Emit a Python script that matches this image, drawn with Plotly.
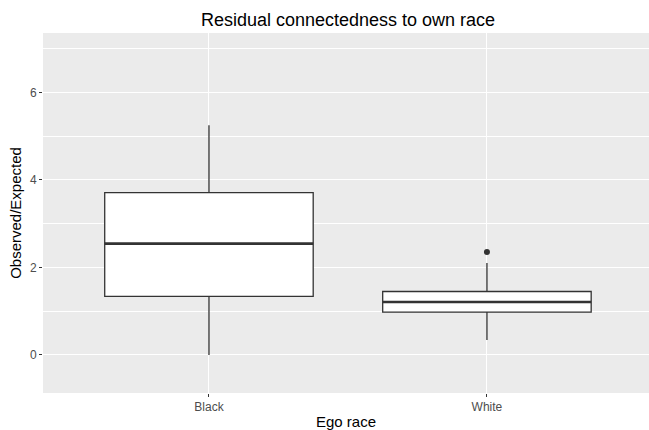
import plotly.graph_objects as go

# Summary statistics per ego race (Observed/Expected ratio)
races = ["Black", "White"]
q1 = [1.34, 0.98]
medians = [2.545, 1.21]
q3 = [3.71, 1.45]
lower_whisker = [0.0, 0.34]
upper_whisker = [5.25, 2.10]
outlier_race = ["White"]
outlier_values = [2.355]

pos = {r: i for i, r in enumerate(races)}
box_w = 0.75
ink = "#333333"

fig = go.Figure()
for i, r in enumerate(races):
    fig.add_trace(go.Box(
        x=[pos[r]], q1=[q1[i]], median=[medians[i]], q3=[q3[i]],
        lowerfence=[lower_whisker[i]], upperfence=[upper_whisker[i]],
        width=box_w, whiskerwidth=0, fillcolor="white",
        line=dict(color=ink, width=1.3), boxpoints=False,
        showlegend=False, hoverinfo="skip",
    ))
    # thicker median bar, as in ggplot2
    fig.add_trace(go.Scatter(
        x=[pos[r] - box_w / 2, pos[r] + box_w / 2], y=[medians[i], medians[i]],
        mode="lines", line=dict(color=ink, width=2.6),
        showlegend=False, hoverinfo="skip",
    ))

fig.add_trace(go.Scatter(
    x=[pos[r] for r in outlier_race], y=outlier_values, mode="markers",
    marker=dict(color=ink, size=6), showlegend=False, hoverinfo="skip",
))

fig.update_layout(
    width=649, height=430,
    margin=dict(l=43, r=0, t=33, b=37),
    paper_bgcolor="white", plot_bgcolor="#EBEBEB",
    font=dict(family="Liberation Sans, Arial, sans-serif", color="black"),
    title=dict(text="Residual connectedness to own race", font=dict(size=18),
               x=348 / 649, xref="container", xanchor="center",
               y=1 - 20 / 430, yref="container", yanchor="middle"),
)
fig.update_xaxes(
    range=[-0.597, 1.583], tickvals=[0, 1], ticktext=races,
    showgrid=True, gridcolor="white", gridwidth=1.1, zeroline=False,
    ticks="outside", ticklen=3, tickcolor=ink, tickwidth=1,
    tickfont=dict(size=12, color="#4D4D4D"),
    title=dict(text="Ego race", font=dict(size=15), standoff=4),
)
fig.update_yaxes(
    range=[-0.87, 7.36], tickvals=[0, 2, 4, 6],
    showgrid=True, gridcolor="white", gridwidth=1.1, zeroline=False,
    minor=dict(tickvals=[1, 3, 5, 7], showgrid=True, gridcolor="white", gridwidth=0.55),
    ticks="outside", ticklen=3, tickcolor=ink, tickwidth=1,
    tickfont=dict(size=12, color="#4D4D4D"),
    title=dict(text="Observed/Expected", font=dict(size=15), standoff=4),
)

fig.write_html("out.html")
